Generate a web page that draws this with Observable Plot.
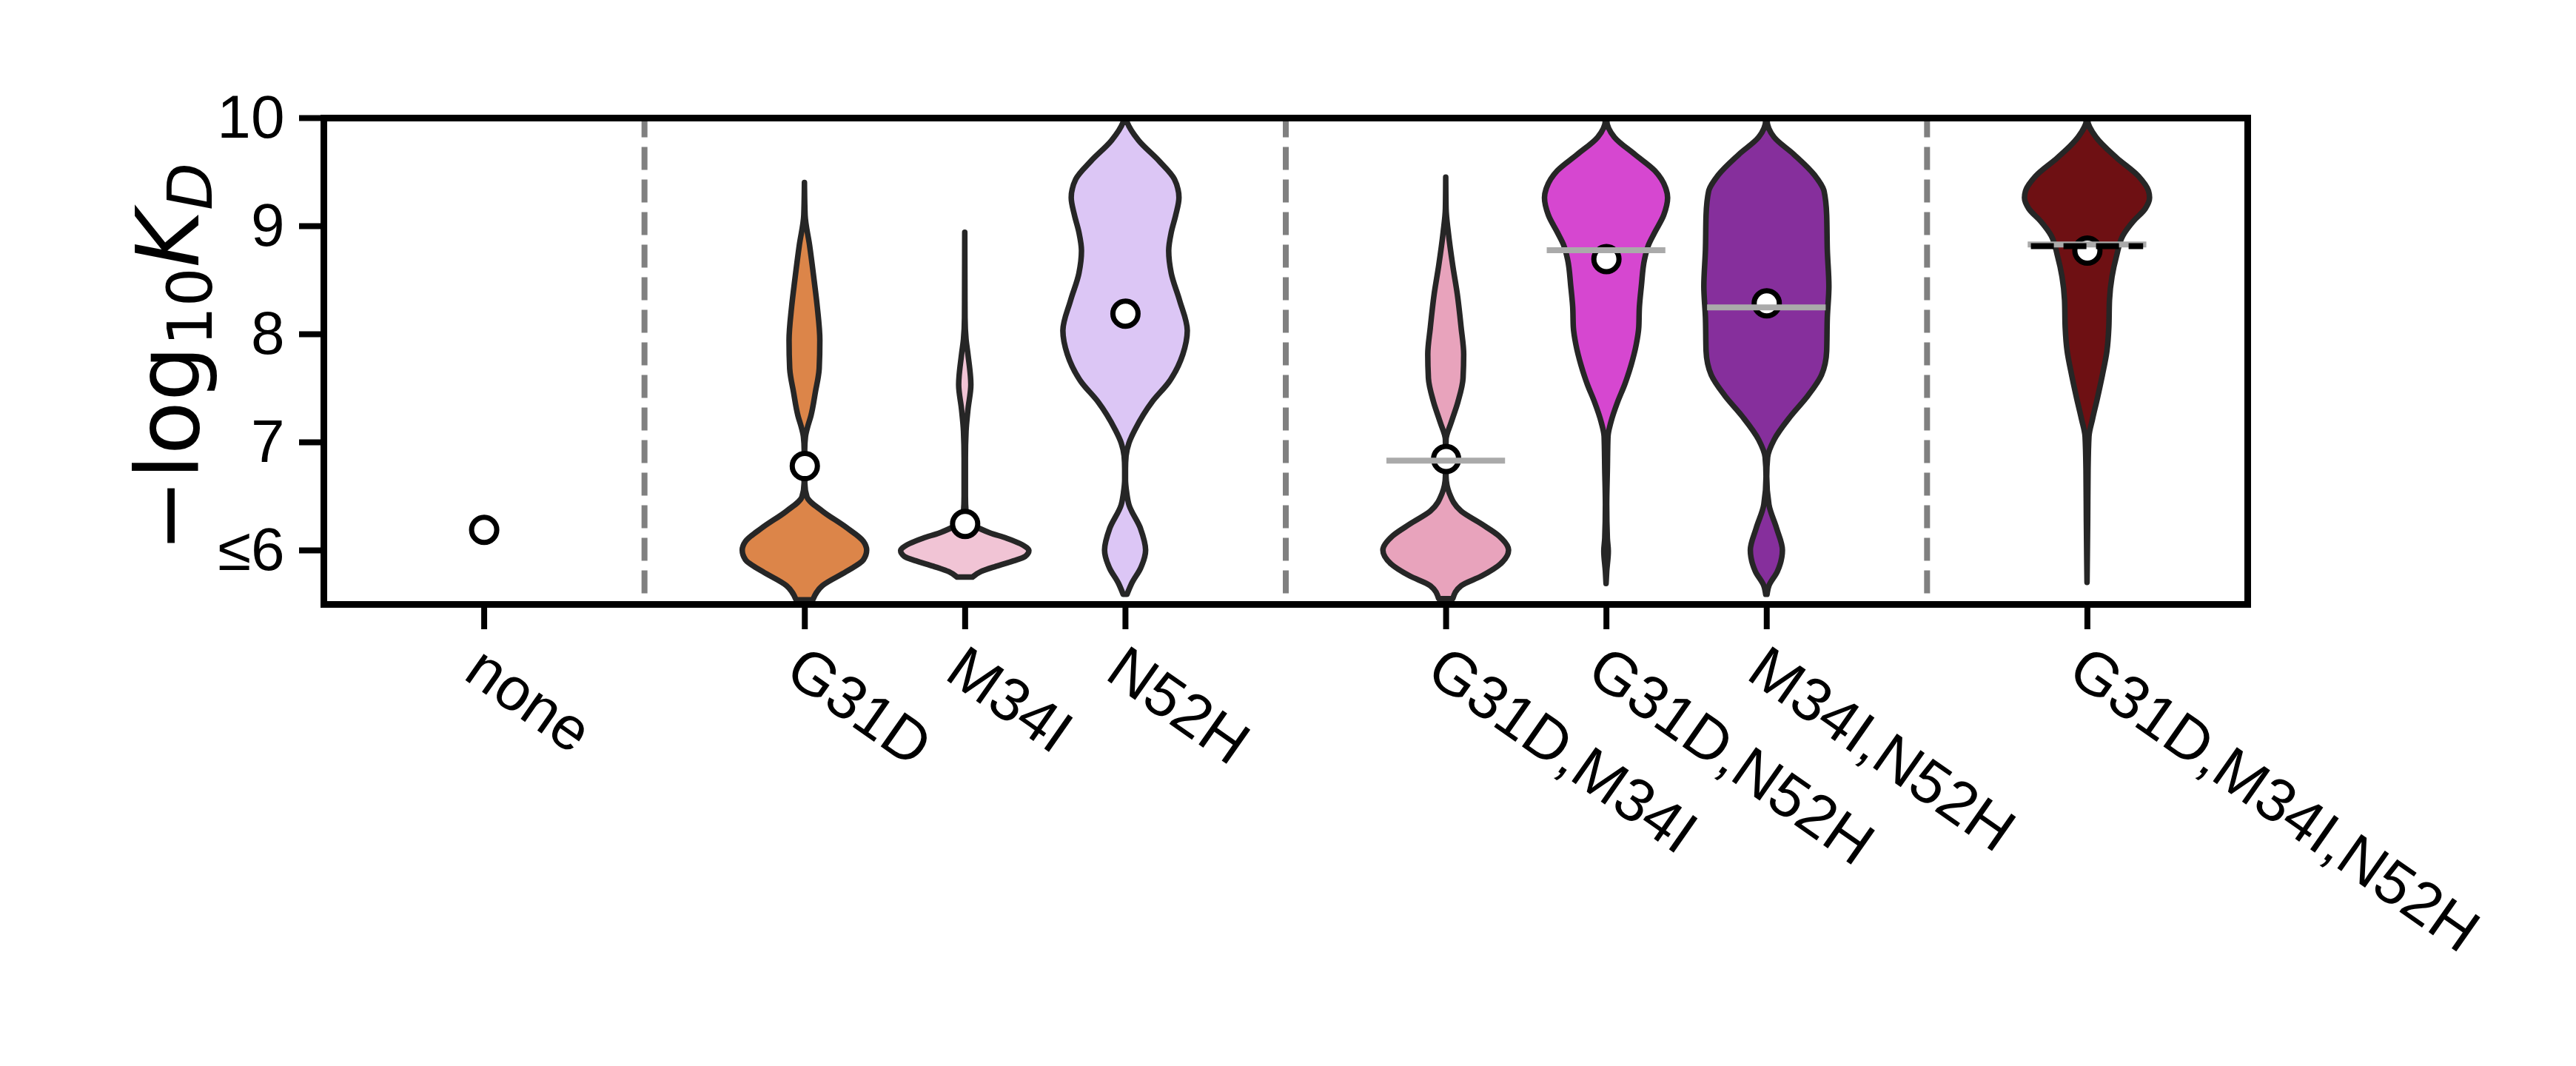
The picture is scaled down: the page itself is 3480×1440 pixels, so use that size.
<!DOCTYPE html>
<html>
<head>
<meta charset="utf-8">
<script src="https://cdn.jsdelivr.net/npm/d3@7"></script>
<script src="https://cdn.jsdelivr.net/npm/@observablehq/plot@0.6"></script>
<style>
  html, body { margin: 0; padding: 0; background: #ffffff; }
</style>
</head>
<body>
<div id="chart"></div>
<script>
// ---- data ----
const categories = ["none", "G31D", "M34I", "N52H", "G31D,M34I", "G31D,N52H", "M34I,N52H", "G31D,M34I,N52H"];
const groupSizes = [1, 3, 3, 1];
const violinColors = ["#DC8549", "#F1C4D5", "#DCC6F5", "#E8A3BC", "#D647D0", "#862F9C", "#6E1013"];
const meanValues = [6.19, 6.78, 6.245, 8.19, 6.846, 8.695, 8.286, 8.774];
const grayLineValues = [null, null, null, null, 6.83, 8.777, 8.249, 8.831];
const blackDashValues = [null, null, null, null, null, null, null, 8.815];
const yTicks = [6, 7, 8, 9, 10];
const yTickLabels = ["≤6", "7", "8", "9", "10"];

// violin outlines: [value, relative half-width]
const violinG31D = [[9.40,0],[9.10,0.01],[8.82,0.08],[8.50,0.15],[8.25,0.20],[7.94,0.24],[7.68,0.23],[7.46,0.17],[7.24,0.10],[7.14,0.05],[7.05,0.016],[6.93,0.004],[6.77,0.003],[6.62,0.005],[6.49,0.04],[6.36,0.28],[6.21,0.65],[6.08,0.92],[6.0,0.97],[5.91,0.92],[5.80,0.65],[5.67,0.28],[5.54,0.13]];
const violinM34I = [[8.94,0],[8.50,0.002],[8.15,0.004],[7.95,0.02],[7.81,0.05],[7.53,0.095],[7.30,0.05],[7.10,0.02],[6.85,0.01],[6.50,0.01],[6.35,0.02],[6.22,0.17],[6.16,0.39],[6.11,0.65],[6.06,0.86],[6.02,0.97],[5.995,1.0],[5.94,0.94],[5.90,0.76],[5.85,0.49],[5.80,0.25],[5.75,0.12]];
const violinN52H = [[10.0,0.01],[9.96,0.03],[9.79,0.21],[9.60,0.53],[9.43,0.77],[9.26,0.84],[9.10,0.79],[8.94,0.72],[8.77,0.68],[8.56,0.72],[8.31,0.85],[8.03,0.97],[7.81,0.90],[7.56,0.69],[7.37,0.42],[7.12,0.16],[6.99,0.06],[6.87,0.015],[6.75,0.006],[6.65,0.006],[6.53,0.025],[6.42,0.06],[6.20,0.24],[6.0,0.32],[5.83,0.24],[5.70,0.11],[5.59,0.03]];
const violinG31DM34I = [[9.45,0],[9.16,0.005],[8.94,0.04],[8.63,0.11],[8.37,0.18],[8.06,0.24],[7.81,0.28],[7.59,0.27],[7.37,0.19],[7.18,0.085],[7.02,0.005],[6.85,0.003],[6.68,0.005],[6.52,0.06],[6.36,0.24],[6.24,0.56],[6.13,0.83],[6.0,0.98],[5.87,0.85],[5.76,0.56],[5.67,0.24],[5.55,0.11]];
const violinG31DN52H = [[10.0,0.01],[9.98,0.01],[9.82,0.13],[9.66,0.45],[9.51,0.76],[9.35,0.93],[9.26,0.96],[9.10,0.90],[8.94,0.76],[8.82,0.66],[8.69,0.60],[8.44,0.55],[8.25,0.52],[8.06,0.51],[7.90,0.47],[7.71,0.39],[7.53,0.29],[7.37,0.18],[7.18,0.074],[7.05,0.03],[6.74,0.02],[6.42,0.01],[6.11,0.02],[5.99,0.035],[5.80,0.01],[5.69,0]];
const violinM34IN52H = [[10.0,0.01],[9.98,0.01],[9.82,0.12],[9.66,0.43],[9.47,0.75],[9.32,0.90],[9.10,0.94],[8.78,0.95],[8.44,0.975],[8.15,0.95],[7.84,0.94],[7.62,0.86],[7.43,0.65],[7.24,0.38],[7.02,0.12],[6.86,0.02],[6.68,0.005],[6.42,0.04],[6.20,0.16],[6.0,0.25],[5.80,0.17],[5.67,0.04],[5.59,0.01]];
const violinTriple = [[10.0,0.01],[9.98,0.01],[9.82,0.14],[9.63,0.46],[9.46,0.80],[9.32,0.96],[9.26,0.975],[9.16,0.91],[9.04,0.72],[8.91,0.56],[8.72,0.46],[8.53,0.39],[8.31,0.35],[8.06,0.34],[7.84,0.31],[7.62,0.24],[7.40,0.16],[7.21,0.085],[7.05,0.03],[6.74,0.016],[6.26,0.01],[5.70,0]];
const violinProfiles = [null, violinG31D, violinM34I, violinN52H, violinG31DM34I, violinG31DN52H, violinM34IN52H, violinTriple];

// ---- layout of category slots (one empty slot between groups) ----
const slots = [];
const dividers = [];
{
  let s = 0;
  groupSizes.forEach((n, g) => {
    for (let i = 0; i < n; i++) slots.push(s + i);
    s += n;
    if (g < groupSizes.length - 1) { dividers.push(s); s += 1; }
  });
}
const halfMax = 0.4;

const violinRows = [];
violinProfiles.forEach((prof, i) => {
  if (!prof) return;
  prof.slice().sort((a, b) => a[0] - b[0]).forEach(([y, w]) => {
    violinRows.push({cat: categories[i], pos: slots[i], y, w});
  });
});
const meanRows = categories.map((c, i) => ({cat: c, pos: slots[i], v: meanValues[i]}));
const grayRows = categories.map((c, i) => ({cat: c, pos: slots[i], v: grayLineValues[i]})).filter(d => d.v != null);
const blackRows = categories.map((c, i) => ({cat: c, pos: slots[i], v: blackDashValues[i]})).filter(d => d.v != null);
const labelRows = categories.map((c, i) => ({cat: c, pos: slots[i]}));

const chart = Plot.plot({
  width: 3480,
  height: 1440,
  marginLeft: 437,
  marginRight: 444,
  marginTop: 159,
  marginBottom: 624,
  x: {domain: [-1, slots[slots.length - 1] + 1]},
  y: {domain: [5.5, 10]},
  color: {domain: categories.slice(1), range: violinColors},
  style: {fontFamily: "'Liberation Sans', Arial, sans-serif", fontSize: "82px", background: "#ffffff", color: "#000000", overflow: "visible"},
  marks: [
    Plot.ruleX(dividers, {x: d => d, y1: 5.6, y2: 10, stroke: "#808080", strokeWidth: 8, strokeDasharray: "31,13"}),
    Plot.areaX(violinRows, {
      y: "y",
      x1: d => d.pos - halfMax * d.w,
      x2: d => d.pos + halfMax * d.w,
      z: "cat",
      fill: "cat",
      stroke: "#262626",
      strokeWidth: 7.5,
      strokeLinejoin: "round",
      strokeLinecap: "round",
      curve: "monotone-y"
    }),
    Plot.dot(meanRows, {x: "pos", y: "v", r: 17, fill: "white", stroke: "black", strokeWidth: 7}),
    Plot.ruleY(grayRows, {y: "v", x1: d => d.pos - 0.37, x2: d => d.pos + 0.37, stroke: "#AAAAAA", strokeWidth: 8}),
    Plot.ruleY(blackRows, {y: "v", x1: d => d.pos - 0.35, x2: d => d.pos + 0.35, stroke: "black", strokeWidth: 8, strokeDasharray: "31,13"}),
    Plot.frame({stroke: "black", strokeWidth: 9}),
    Plot.axisY({ticks: yTicks, tickFormat: d => yTickLabels[yTicks.indexOf(d)], tickSize: 33, tickPadding: 20, strokeWidth: 8, label: null, fontSize: 82}),
    Plot.axisX({ticks: slots, tickSize: 34, strokeWidth: 8, fill: "none", tickFormat: () => "", label: null}),
    Plot.text(labelRows, {x: "pos", text: "cat", frameAnchor: "bottom", rotate: 35, textAnchor: "start", lineAnchor: "bottom", dx: -30, dy: 99, fontSize: 82, fill: "black"})
  ]
});

// y-axis label with subscripts
const svg = d3.select(chart);
const lab = svg.append("text")
  .attr("transform", "translate(268,483) rotate(-90)")
  .attr("text-anchor", "middle")
  .attr("fill", "black")
  .style("font-family", "'DejaVu Sans', sans-serif")
  .style("font-size", "118px");
lab.append("tspan").text("−log");
lab.append("tspan").attr("dy", 18).style("font-size", "83px").text("10");
lab.append("tspan").attr("dy", -18).style("font-style", "italic").text("K");
lab.append("tspan").attr("dy", 18).style("font-style", "italic").style("font-size", "83px").text("D");

document.getElementById("chart").appendChild(chart);
</script>
</body>
</html>
